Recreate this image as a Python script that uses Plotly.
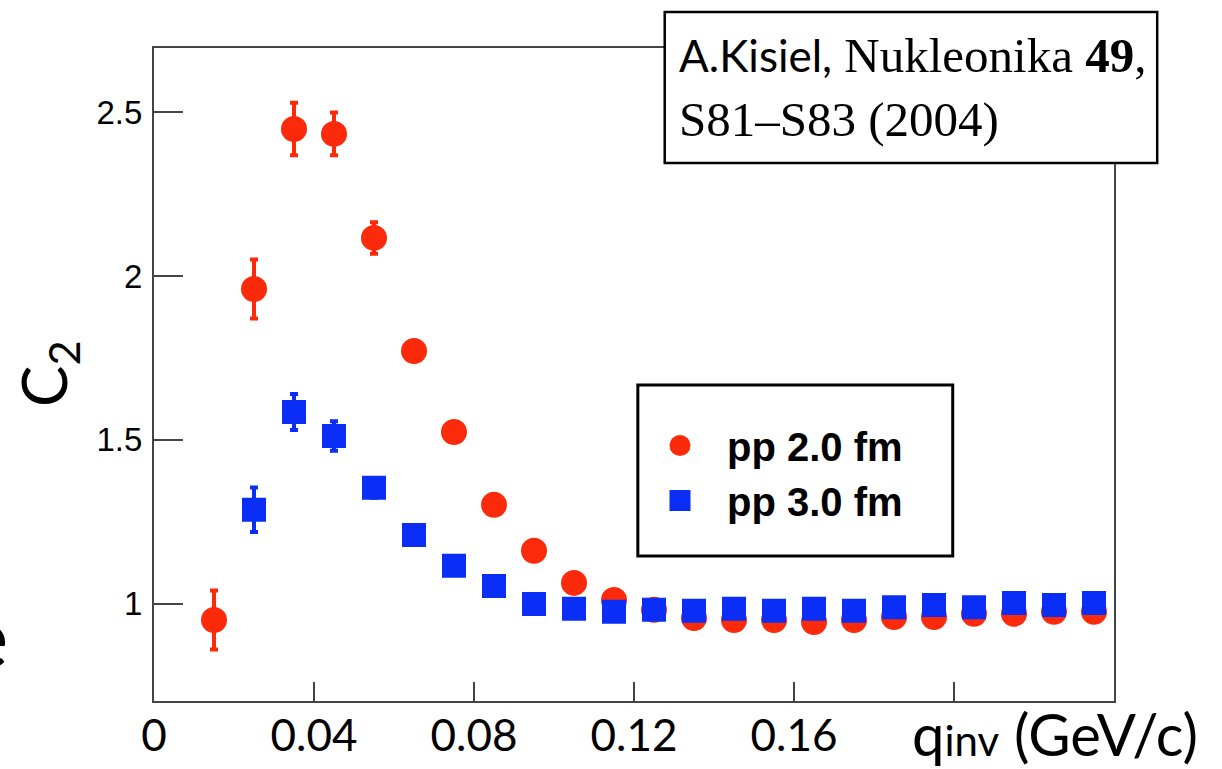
import plotly.graph_objects as go

# ---- data ----
q_red = [0.015, 0.025, 0.035, 0.045, 0.055, 0.065, 0.075, 0.085, 0.095, 0.105, 0.115, 0.125,
         0.135, 0.145, 0.155, 0.165, 0.175, 0.185, 0.195, 0.205, 0.215, 0.225, 0.235]
c2_red = [0.951, 1.96, 2.448, 2.433, 2.116, 1.771, 1.524, 1.302, 1.162, 1.064, 1.012, 0.982,
          0.957, 0.951, 0.951, 0.945, 0.951, 0.960, 0.960, 0.970, 0.970, 0.976, 0.976]
err_red = [0.09, 0.09, 0.08, 0.065, 0.048, 0.03, 0.03, 0.02, 0.02, 0.02, 0.02, 0.02,
           0.02, 0.02, 0.02, 0.02, 0.02, 0.02, 0.02, 0.02, 0.02, 0.02, 0.02]

q_blue = [0.025, 0.035, 0.045, 0.055, 0.065, 0.075, 0.085, 0.095, 0.105, 0.115, 0.125,
          0.135, 0.145, 0.155, 0.165, 0.175, 0.185, 0.195, 0.205, 0.215, 0.225, 0.235]
c2_blue = [1.287, 1.585, 1.512, 1.354, 1.21, 1.116, 1.055, 1.0, 0.985, 0.976, 0.982,
           0.979, 0.985, 0.979, 0.985, 0.979, 0.99, 0.997, 0.99, 1.003, 0.997, 1.003]
err_blue = [0.068, 0.055, 0.045, 0.03, 0.02, 0.02, 0.02, 0.02, 0.02, 0.02, 0.02,
            0.02, 0.02, 0.02, 0.02, 0.02, 0.02, 0.02, 0.02, 0.02, 0.02, 0.02]

series_names = ["pp 2.0 fm", "pp 3.0 fm"]
x_tickvals = [0, 0.04, 0.08, 0.12, 0.16, 0.20]
x_ticktext = ["0", "0.04", "0.08", "0.12", "0.16", ""]
y_tickvals = [1, 1.5, 2, 2.5]
y_ticktext = ["1", "1.5", "2", "2.5"]

RED = "#fb2a0a"
BLUE = "#0a2ef5"

fig = go.Figure()
fig.add_trace(go.Scatter(
    x=q_red, y=c2_red, mode="markers", name=series_names[0],
    marker=dict(symbol="circle", size=21, color=RED, line=dict(color=RED, width=5)),
    error_y=dict(type="data", array=err_red, color=RED, thickness=4, width=4),
))
fig.add_trace(go.Scatter(
    x=q_blue, y=c2_blue, mode="markers", name=series_names[1],
    marker=dict(symbol="square", size=19, color=BLUE, line=dict(color=BLUE, width=5)),
    error_y=dict(type="data", array=err_blue, color=BLUE, thickness=4, width=4),
))

AX_COL = "#444444"
fig.update_xaxes(
    range=[0, 0.24], showgrid=False, zeroline=False, automargin=False,
    showline=True, linecolor=AX_COL, linewidth=2, mirror=True,
    ticks="inside", ticklen=19, tickwidth=2, tickcolor=AX_COL,
    tickvals=x_tickvals, ticktext=x_ticktext,
    tickfont=dict(family="Lato", size=44, color="black"),
    ticklabelstandoff=-5,
)
fig.update_yaxes(
    range=[0.704, 2.695], showgrid=False, zeroline=False, automargin=False,
    showline=True, linecolor=AX_COL, linewidth=2, mirror=True,
    ticks="inside", ticklen=29, tickwidth=2, tickcolor=AX_COL,
    tickvals=y_tickvals, ticktext=y_ticktext,
    tickfont=dict(family="Liberation Sans, Arial", size=33, color="black"),
    ticklabelstandoff=3,
)

# legend frame
fig.add_shape(type="rect", xref="paper", yref="paper",
              x0=0.504, x1=0.832, y0=0.222, y1=0.484,
              line=dict(color="black", width=3), fillcolor="rgba(0,0,0,0)", layer="above")

# citation box
fig.add_shape(type="rect", xref="paper", yref="paper",
              x0=0.532, x1=1.045, y0=0.824, y1=1.055,
              line=dict(color="black", width=2.5), fillcolor="white", layer="above")
fig.add_annotation(
    xref="paper", yref="paper", x=(677 - 154) / 960, y=0.939, xanchor="left", yanchor="middle",
    align="left", showarrow=False,
    text="<span style='font-family:Lato;font-size:44px'>A.Kisiel,</span> Nukleonika <b>49</b>,<br>S81–S83 (2004)",
    font=dict(family="Liberation Serif, Times New Roman", size=49, color="black"),
)

# axis titles
fig.add_annotation(
    xref="paper", yref="paper", x=(1200 - 154) / 960, y=(701 - 733) / 653,
    xanchor="right", yanchor="middle",
    showarrow=False, text="q<span style='font-size:42px'>inv</span> (GeV/c)",
    font=dict(family="Lato", size=58, color="black"),
)
fig.add_annotation(
    xref="paper", yref="paper", x=(47 - 154) / 960, y=(701 - 374) / 653,
    xanchor="center", yanchor="middle", textangle=-90,
    showarrow=False, text="C<sub>2</sub>",
    font=dict(family="Lato", size=62, color="black"),
)
# slide fragment at the left edge
fig.add_annotation(
    xref="paper", yref="paper", x=(10 - 154) / 960, y=(701 - 634) / 653,
    xanchor="right", yanchor="middle", showarrow=False, text="e",
    font=dict(family="Lato", size=86, color="black"),
)

fig.update_layout(
    width=1222, height=769,
    margin=dict(l=154, r=108, t=48, b=68),
    paper_bgcolor="white", plot_bgcolor="white",
    showlegend=True,
    legend=dict(
        x=(633 - 154) / 960, y=(701 - 413) / 653, xanchor="left", yanchor="top",
        bgcolor="rgba(0,0,0,0)", borderwidth=0,
        font=dict(family="Liberation Sans, Arial", size=40, color="black", weight="bold"),
        itemwidth=84, traceorder="normal",
    ),
)

fig.write_html("out.html")
